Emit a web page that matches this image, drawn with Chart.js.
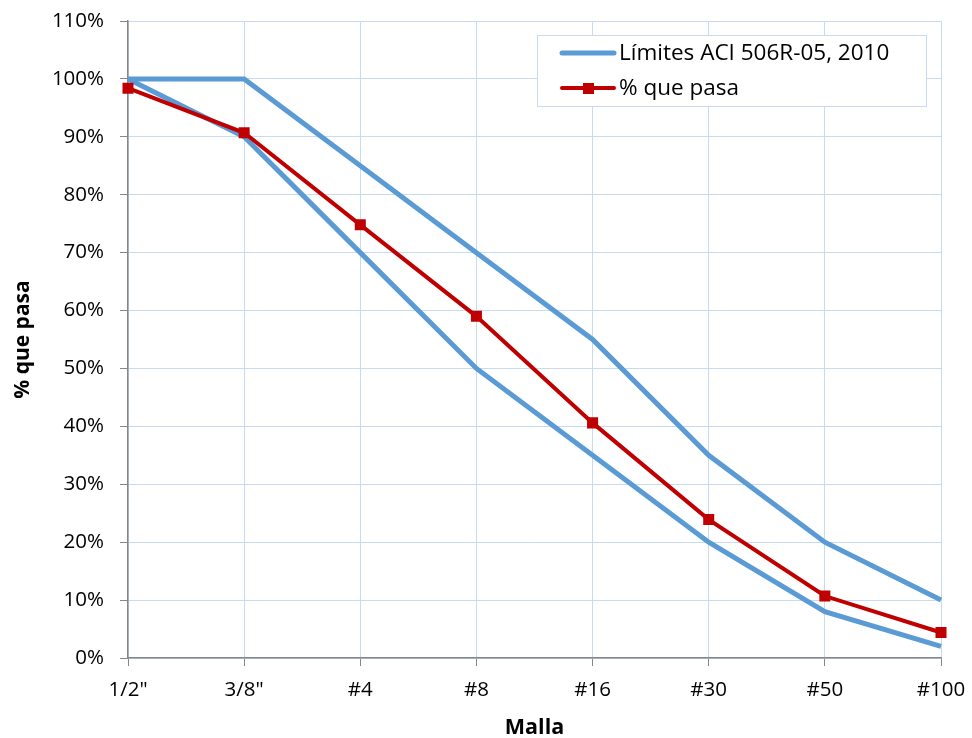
<!DOCTYPE html>
<html>
<head>
<meta charset="utf-8">
<script src="https://cdn.jsdelivr.net/npm/chart.js@4"></script>
<style>
  html, body { margin: 0; padding: 0; background: #fff; }
  #wrap { width: 972px; height: 738px; position: relative; }
</style>
</head>
<body>
<div id="wrap"><canvas id="chart" width="972" height="738"></canvas></div>
<script>
// sieve sizes and passing percentages
const mallas = ['1/2"', '3/8"', '#4', '#8', '#16', '#30', '#50', '#100'];
const limiteSuperior = [100, 100, 85, 70, 55, 35, 20, 10];
const limiteInferior = [100, 90, 70, 50, 35, 20, 8, 2];
const quePasa = [98.4, 90.7, 74.8, 59, 40.6, 23.9, 10.7, 4.4];

const azul = '#5b9bd5';
const rojo = '#c00000';
const fuente = "'Open Sans', 'Liberation Sans', sans-serif";

// legend drawn inside the plot, like the spreadsheet one
const leyendaInterna = {
    id: 'leyendaInterna',
    afterDraw(chart) {
        const ctx = chart.ctx;
        const x = 537, y = 35, w = 389, h = 71;
        ctx.save();
        ctx.fillStyle = '#fff';
        ctx.fillRect(x, y, w, h);
        ctx.strokeStyle = '#c6dbef';
        ctx.lineWidth = 1;
        ctx.strokeRect(x + 0.5, y + 0.5, w, h);

        ctx.font = '22.5px ' + fuente;
        ctx.fillStyle = '#000';
        ctx.textBaseline = 'middle';

        // limits entry
        ctx.strokeStyle = azul;
        ctx.lineWidth = 5;
        ctx.lineCap = 'round';
        ctx.beginPath();
        ctx.moveTo(562, 53);
        ctx.lineTo(614, 53);
        ctx.stroke();
        ctx.fillText(chart.data.datasets[0].label, 619, 54);

        // passing entry
        ctx.strokeStyle = rojo;
        ctx.lineWidth = 4;
        ctx.beginPath();
        ctx.moveTo(562, 88);
        ctx.lineTo(614, 88);
        ctx.stroke();
        ctx.fillStyle = rojo;
        ctx.fillRect(583, 83, 11, 11);
        ctx.fillStyle = '#000';
        ctx.fillText(chart.data.datasets[2].label, 619, 89);
        ctx.restore();
    }
};

new Chart(document.getElementById('chart'), {
    type: 'line',
    data: {
        labels: mallas,
        datasets: [
            {
                label: 'Límites ACI 506R-05, 2010',
                data: limiteSuperior,
                borderColor: azul,
                borderWidth: 5,
                pointRadius: 0,
                tension: 0,
                order: 2
            },
            {
                label: 'Límites ACI 506R-05, 2010',
                data: limiteInferior,
                borderColor: azul,
                borderWidth: 5,
                pointRadius: 0,
                tension: 0,
                order: 2
            },
            {
                label: '% que pasa',
                data: quePasa,
                borderColor: rojo,
                backgroundColor: rojo,
                borderWidth: 4,
                pointStyle: 'rect',
                pointRadius: 7.8,
                pointBorderWidth: 0,
                tension: 0,
                order: 1
            }
        ]
    },
    options: {
        responsive: false,
        animation: false,
        devicePixelRatio: 1,
        layout: { padding: { top: 21, right: 31, left: 0, bottom: 0 } },
        plugins: {
            legend: { display: false },
            tooltip: { enabled: false }
        },
        scales: {
            x: {
                offset: false,
                grid: { color: '#c6dbef', tickColor: '#868686', tickLength: 8, offset: false },
                border: { color: '#868686', width: 1.5 },
                ticks: { color: '#000', font: { family: fuente, size: 20.5 }, padding: 12, maxRotation: 0, autoSkip: false },
                title: {
                    display: true,
                    text: 'Malla',
                    color: '#000',
                    font: { family: fuente, size: 21.5, weight: 'bold', lineHeight: 0.9 },
                    padding: { top: 0, bottom: 0 }
                },
                afterFit(scale) {
                    scale.height = 80;
                    scale.paddingLeft = 0;
                    scale.paddingRight = 0;
                }
            },
            y: {
                min: 0,
                max: 110,
                ticks: {
                    stepSize: 10,
                    autoSkip: false,
                    color: '#000',
                    font: { family: fuente, size: 20.5 },
                    padding: 16,
                    callback: v => v + '%'
                },
                grid: { color: '#c6dbef', tickColor: '#868686', tickLength: 8 },
                border: { color: '#868686', width: 1.5 },
                title: {
                    display: true,
                    text: '% que pasa',
                    color: '#000',
                    font: { family: fuente, size: 21, weight: 'bold' },
                    padding: { top: 10, bottom: 0 }
                },
                afterFit(scale) {
                    scale.width = 128;
                    scale.paddingTop = 0;
                    scale.paddingBottom = 0;
                }
            }
        }
    },
    plugins: [leyendaInterna]
});
</script>
</body>
</html>
